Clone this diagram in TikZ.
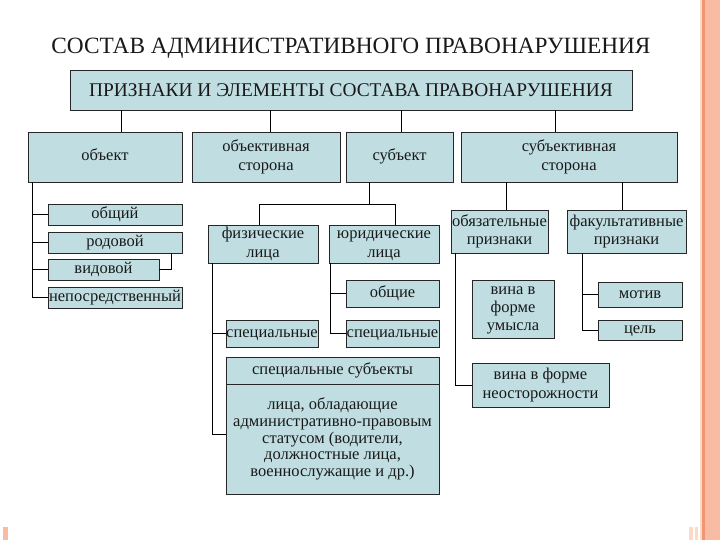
\documentclass[tikz,border=0pt]{standalone}
\usepackage{fontspec}
\setmainfont{Liberation Serif}
\definecolor{boxblue}{RGB}{192,222,226}
\definecolor{stripeA}{RGB}{252,217,200}
\definecolor{stripeB}{RGB}{240,150,115}
\definecolor{stripeC}{RGB}{248,188,165}
\newcommand\mystrut{\rule[-4pt]{0pt}{15pt}}
\newcommand\capstrut{\rule[-2pt]{0pt}{18pt}}
\tikzset{
  box/.style={draw=black!85, fill=boxblue, line width=0.9pt, inner sep=0pt, align=center,
    font=\fontsize{16.5}{18.5}\selectfont, text=black!90},
  conn/.style={draw=black, line width=1pt},
}
\begin{document}
\begin{tikzpicture}[x=1pt,y=-1pt]
\useasboundingbox (0,0) rectangle (720,540);
\fill[white] (0,0) rectangle (720,540);
% decorative stripes
\fill[stripeA] (700,0) rectangle (702,540);
\fill[stripeB] (702,0) rectangle (705,540);
\fill[stripeC] (705,0) rectangle (720,540);
\fill[stripeC] (3,527) rectangle (8,540);
\fill[stripeA] (689,527) rectangle (693,540);
\fill[stripeA] (695,527) rectangle (698,540);

% title
\node[font=\fontsize{23.3}{26}\selectfont, text=black!90] (title) at (351,48) {СОСТАВ АДМИНИСТРАТИВНОГО ПРАВОНАРУШЕНИЯ};

% top box
\node[box, minimum width=562pt, minimum height=40pt, font=\fontsize{19.4}{22}\selectfont] (top) at (351,90) {\capstrut ПРИЗНАКИ И ЭЛЕМЕНТЫ СОСТАВА ПРАВОНАРУШЕНИЯ};

% level 2
\node[box, minimum width=154pt, minimum height=50pt] (obj) at (105,157) {\mystrut объект};
\node[box, minimum width=148pt, minimum height=50pt, font=\fontsize{16.5}{19}\selectfont] (objside) at (266,157) {\mystrut объективная\\сторона};
\node[box, minimum width=107pt, minimum height=50pt] (subj) at (399.5,157) {\mystrut субъект};
\node[box, minimum width=216pt, minimum height=50pt, font=\fontsize{16.5}{19}\selectfont] (subjside) at (569,157) {\mystrut субъективная\\сторона};

% object subtree
\node[box, minimum width=134pt, minimum height=21pt] (obsh) at (115,214.5) {\mystrut общий};
\node[box, minimum width=134pt, minimum height=21pt] (rod) at (115,242.5) {\mystrut родовой};
\node[box, minimum width=111pt, minimum height=21pt] (vid) at (103.5,269.5) {\mystrut видовой};
\node[box, minimum width=134pt, minimum height=21pt] (nep) at (115,297.5) {\mystrut непосредственный};

% subject subtree
\node[box, minimum width=110pt, minimum height=38pt] (fiz) at (263,244) {\mystrut физические\\лица};
\node[box, minimum width=110pt, minimum height=38pt] (jur) at (384,244) {\mystrut юридические\\лица};
\node[box, minimum width=93pt, minimum height=27pt] (obshie) at (392.5,293.5) {\mystrut общие};
\node[box, minimum width=93pt, minimum height=27pt] (spec2) at (392.5,333.5) {\mystrut специальные};
\node[box, minimum width=92pt, minimum height=27pt] (spec1) at (272,333.5) {\mystrut специальные};
\node[box, minimum width=213pt, minimum height=27pt] (bighead) at (332.5,370.5) {\mystrut специальные субъекты};
\node[box, minimum width=213pt, minimum height=110pt, font=\fontsize{16.5}{16.8}\selectfont] (bigbody) at (332.5,439) {\mystrut лица, обладающие\\административно-правовым\\статусом (водители,\\должностные лица,\\военнослужащие и др.)};

% subjective side subtree
\node[box, minimum width=97pt, minimum height=43pt] (obyaz) at (499.5,231.5) {\mystrut обязательные\\признаки};
\node[box, minimum width=119pt, minimum height=43pt] (fakult) at (626.5,231.5) {\mystrut факультативные\\признаки};
\node[box, minimum width=82pt, minimum height=58pt, font=\fontsize{16.5}{18}\selectfont] (umysl) at (513,309) {\mystrut вина в\\форме\\умысла};
\node[box, minimum width=137pt, minimum height=44pt] (neost) at (540.5,385) {\mystrut вина в форме\\неосторожности};
\node[box, minimum width=84pt, minimum height=25pt] (motiv) at (640,294.5) {\mystrut мотив};
\node[box, minimum width=84pt, minimum height=20pt] (cel) at (640,330) {\mystrut цель};

% connectors from top box
\draw[conn] ([xshift=16pt]obj.north) -- ([xshift=16pt]obj.north |- top.south);
\draw[conn] ([xshift=4pt]objside.north) -- ([xshift=4pt]objside.north |- top.south);
\draw[conn] ([xshift=1.5pt]subj.north) -- ([xshift=1.5pt]subj.north |- top.south);
\draw[conn] ([xshift=-14pt]subjside.north) -- ([xshift=-14pt]subjside.north |- top.south);

% object spine
\coordinate (osp) at ([xshift=5pt]obj.south west);
\draw[conn] (osp) |- (nep.west);
\draw[conn] (obsh.west) -- (obsh.west -| osp);
\draw[conn] (rod.west) -- (rod.west -| osp);
\draw[conn] (vid.west) -- (vid.west -| osp);
\draw[conn] (vid.east) -| ([xshift=-11pt]rod.south east);

% subject
\coordinate (sjtop) at ([xshift=-30.5pt]subj.south);
\draw[conn] (sjtop) -- ++(0,22) coordinate (sjm);
\draw[conn] ([xshift=-4pt]fiz.north) |- (sjm) -| ([xshift=11pt]jur.north);

% juridical spine
\coordinate (jsp) at ([xshift=2pt]jur.south west);
\draw[conn] (jsp) |- (spec2.west);
\draw[conn] (obshie.west) -- (obshie.west -| jsp);

% physical spine
\coordinate (fsp) at ([xshift=5pt]fiz.south west);
\draw[conn] (fsp) |- ([yshift=5pt]bigbody.west);
\draw[conn] (spec1.west) -- (spec1.west -| fsp);

% subjective side
\draw[conn] ([xshift=6.5pt]obyaz.north) -- ([xshift=6.5pt]obyaz.north |- subjside.south);
\draw[conn] ([xshift=-4.5pt]fakult.north) -- ([xshift=-4.5pt]fakult.north |- subjside.south);

\coordinate (bsp) at ([xshift=5pt]obyaz.south west);
\draw[conn] (bsp) |- (neost.west);

\coordinate (ksp) at ([xshift=16pt]fakult.south west);
\draw[conn] (ksp) |- (cel.west);
\draw[conn] (motiv.west) -- (motiv.west -| ksp);
\end{tikzpicture}
\end{document}
